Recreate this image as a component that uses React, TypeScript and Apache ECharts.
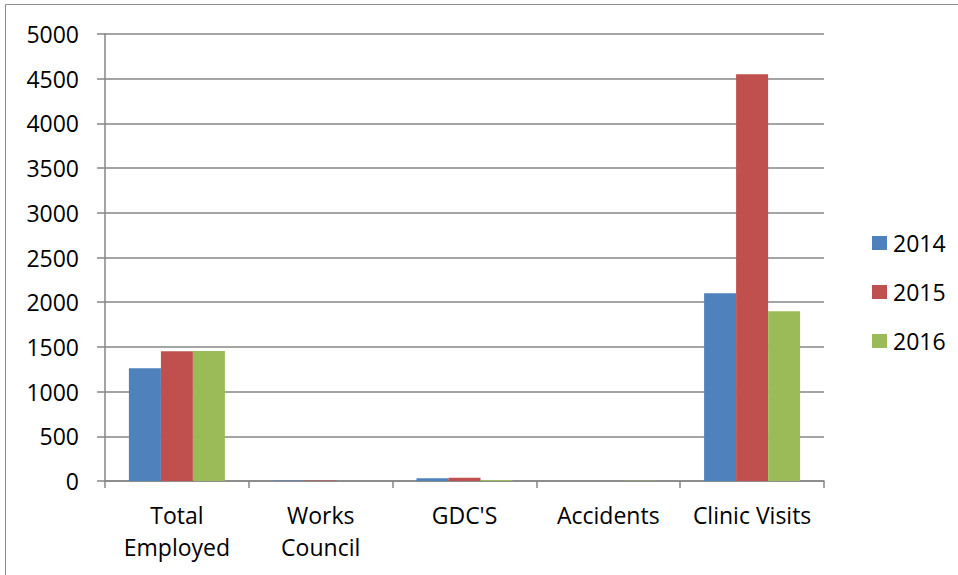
import React, { useEffect, useRef } from "react";
import * as echarts from "echarts";

const categories = ["Total\nEmployed", "Works\nCouncil", "GDC'S", "Accidents", "Clinic Visits"];
const seriesNames = ["2014", "2015", "2016"];
const values2014 = [1260, 5, 30, 0, 2100];
const values2015 = [1450, 5, 35, 0, 4550];
const values2016 = [1455, 0, 10, 3, 1900];
const yTicks = { min: 0, max: 5000, interval: 500 };
const colors = ["#4F81BD", "#C0504D", "#9BBB59"];

const FONT = "Open Sans";

export default function App() {
  const ref = useRef<HTMLDivElement>(null);
  useEffect(() => {
    if (!ref.current) return;
    const chart = echarts.init(ref.current, undefined, { renderer: "svg" });
    const data = [values2014, values2015, values2016];
    chart.setOption({
      animation: false,
      backgroundColor: "#ffffff",
      textStyle: { fontFamily: FONT },
      grid: { left: 105, right: 134, top: 34, bottom: 94, containLabel: false },
      graphic: [
        {
          type: "rect",
          shape: { x: 5.5, y: 4.5, width: 1200, height: 1200 },
          style: { fill: "none", stroke: "#8c8c8c", lineWidth: 1 },
          silent: true,
        },
      ],
      legend: {
        orient: "vertical",
        left: 867,
        top: 226,
        itemWidth: 15,
        itemHeight: 14,
        itemGap: 25,
        icon: "rect",
        data: seriesNames,
        textStyle: { fontFamily: FONT, fontSize: 23, color: "#000", lineHeight: 24, padding: [0, 0, 0, 1] },
      },
      xAxis: {
        type: "category",
        data: categories,
        axisLine: { show: true, lineStyle: { color: "#868686", width: 1.5 } },
        axisTick: { show: true, length: 7, alignWithLabel: false, lineStyle: { color: "#868686", width: 1.5 } },
        axisLabel: {
          interval: 0,
          margin: 18,
          fontFamily: FONT,
          fontSize: 23,
          lineHeight: 32,
          color: "#000",
          verticalAlign: "top",
        },
        splitLine: { show: false },
      },
      yAxis: {
        type: "value",
        min: yTicks.min,
        max: yTicks.max,
        interval: yTicks.interval,
        axisLine: { show: true, lineStyle: { color: "#868686", width: 1.5 } },
        axisTick: { show: true, length: 8, lineStyle: { color: "#868686", width: 1.5 } },
        axisLabel: {
          margin: 26,
          fontFamily: FONT,
          fontSize: 23,
          color: "#000",
          formatter: (v: number) => String(v),
        },
        splitLine: { show: true, lineStyle: { color: "#868686", width: 1.5 } },
      },
      series: seriesNames.map((name, i) => ({
        name,
        type: "bar",
        data: data[i],
        barWidth: 32,
        barGap: "0%",
        itemStyle: { color: colors[i] },
      })),
    });
    return () => chart.dispose();
  }, []);
  return (
    <div
      ref={ref}
      style={{ position: "fixed", left: 0, top: 0, width: 958, height: 575 }}
    />
  );
}
